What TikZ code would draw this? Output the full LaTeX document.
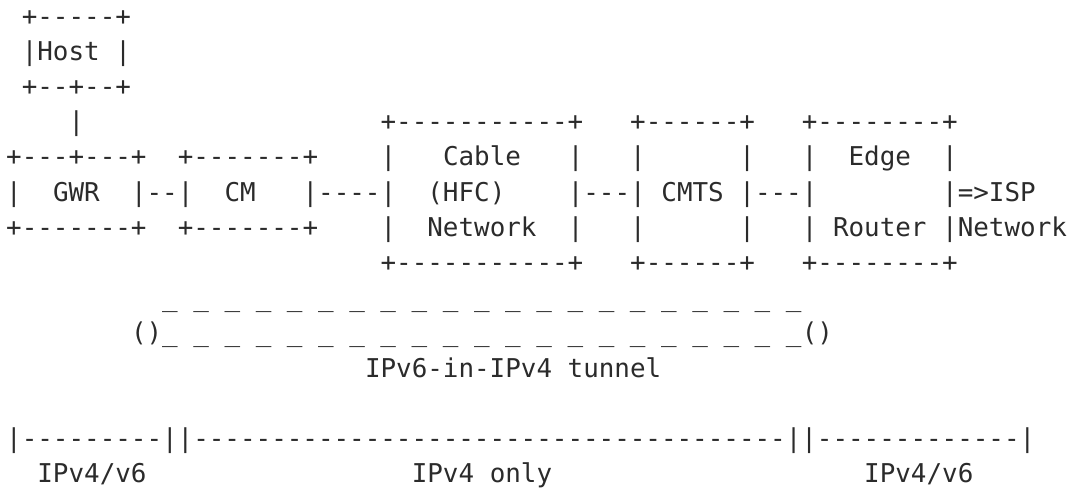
\documentclass[tikz,border=0pt]{standalone}
\usepackage{fontspec}
\setmonofont{DejaVu Sans Mono}
\definecolor{ink}{HTML}{2B2B2B}
\tikzset{
  txt/.style={inner sep=0pt, outer sep=0pt, anchor=base west,
    font=\ttfamily\fontsize{25.9}{30}\selectfont, text=ink}
}
% #1 name, #2 column, #3 row, #4 text
\newcommand{\seg}[4]{\node[txt] (#1) at ({6.2+15.6*#2},{-25-35.2*(#3-1)}) {#4};}
\begin{document}
\begin{tikzpicture}[x=1pt,y=1pt]
\useasboundingbox (0,0) rectangle (1073,-490);
% Host
\seg{hostTop}{1}{1}{+-----+}
\seg{host}{1}{2}{|Host |}
\seg{hostBot}{1}{3}{+--+--+}
\seg{hostLink}{4}{4}{|}
% top edges of right boxes
\seg{cableTop}{24}{4}{+-----------+}
\seg{cmtsTop}{40}{4}{+------+}
\seg{edgeTop}{51}{4}{+--------+}
% row 5
\seg{gwrTop}{0}{5}{+---+---+}
\seg{cmTop}{11}{5}{+-------+}
\seg{cableL5}{24}{5}{|}
\seg{cable}{28}{5}{Cable}
\seg{cableR5}{36}{5}{|}
\seg{cmtsL5}{40}{5}{|}
\seg{cmtsR5}{47}{5}{|}
\seg{edgeL5}{51}{5}{|}
\seg{edge}{54}{5}{Edge}
\seg{edgeR5}{60}{5}{|}
% row 6
\seg{gwrL}{0}{6}{|}
\seg{gwr}{3}{6}{GWR}
\seg{gwrcm}{8}{6}{|--|}
\seg{cm}{14}{6}{CM}
\seg{cmcable}{19}{6}{|----|}
\seg{hfc}{27}{6}{(HFC)}
\seg{cablecmts}{36}{6}{|---|}
\seg{cmts}{42}{6}{CMTS}
\seg{cmtsedge}{47}{6}{|---|}
\seg{isp}{60}{6}{|=>ISP}
% row 7
\seg{gwrBot}{0}{7}{+-------+}
\seg{cmBot}{11}{7}{+-------+}
\seg{cableL7}{24}{7}{|}
\seg{network}{27}{7}{Network}
\seg{cableR7}{36}{7}{|}
\seg{cmtsL7}{40}{7}{|}
\seg{cmtsR7}{47}{7}{|}
\seg{edgeL7}{51}{7}{|}
\seg{router}{53}{7}{Router}
\seg{ispnet}{60}{7}{|Network}
% row 8
\seg{cableBot}{24}{8}{+-----------+}
\seg{cmtsBot}{40}{8}{+------+}
\seg{edgeBot}{51}{8}{+--------+}
% tunnel
\seg{tunTop}{10}{9}{\_ \_ \_ \_ \_ \_ \_ \_ \_ \_ \_ \_ \_ \_ \_ \_ \_ \_ \_ \_ \_}
\seg{tunL}{8}{10}{()}
\seg{tunBot}{10}{10}{\_ \_ \_ \_ \_ \_ \_ \_ \_ \_ \_ \_ \_ \_ \_ \_ \_ \_ \_ \_ \_}
\seg{tunR}{51}{10}{()}
\seg{tunLabel}{23}{11}{IPv6-in-IPv4 tunnel}
% ranges
\seg{ranges}{0}{13}{|---------||--------------------------------------||-------------|}
\seg{rangeA}{2}{14}{IPv4/v6}
\seg{rangeB}{26}{14}{IPv4 only}
\seg{rangeC}{55}{14}{IPv4/v6}
\end{tikzpicture}
\end{document}
